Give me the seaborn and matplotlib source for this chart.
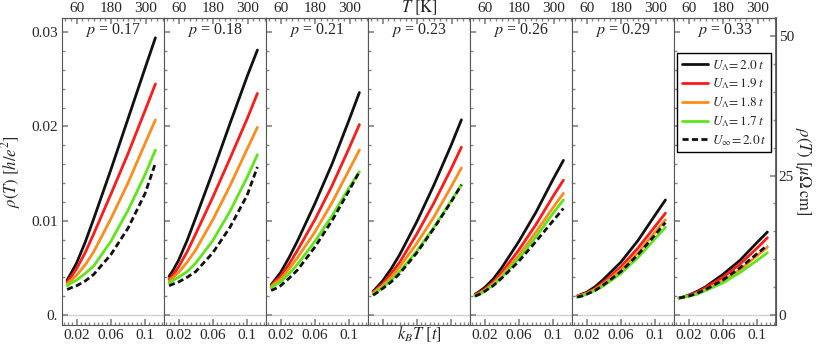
import numpy as np
import pandas as pd
import seaborn as sns
import matplotlib.pyplot as plt
from matplotlib.ticker import FixedLocator, MultipleLocator, FuncFormatter
from matplotlib.lines import Line2D

# temperature grid in units of the hopping t
kT = [0.009, 0.014, 0.02, 0.03, 0.04, 0.06, 0.08, 0.1, 0.112]
dopings = [0.17, 0.18, 0.21, 0.23, 0.26, 0.29, 0.33]

# rho(T) in h/e^2, one list per panel (p = 0.17 ... 0.33)
rho_U20 = [
    [0.0037, 0.0045, 0.0055, 0.0077, 0.0102, 0.0154, 0.0208, 0.0262, 0.0294],
    [0.0041, 0.0048, 0.0058, 0.0079, 0.0103, 0.0152, 0.0203, 0.0253, 0.0281],
    [0.0032, 0.0038, 0.0045, 0.0061, 0.0079, 0.0118, 0.0160, 0.0207, 0.0236],
    [0.0025, 0.0030, 0.0036, 0.0049, 0.0064, 0.0099, 0.0138, 0.0180, 0.0207],
    [0.0022, 0.0025, 0.0029, 0.0038, 0.0050, 0.0078, 0.0109, 0.0144, 0.0164],
    [0.0020, 0.0022, 0.0024, 0.0030, 0.0038, 0.0056, 0.0079, 0.0106, 0.0122],
    [0.0018, 0.0019, 0.0021, 0.0025, 0.0030, 0.0043, 0.0058, 0.0077, 0.0088],
]
rho_U19 = [
    [0.0035, 0.0041, 0.0049, 0.0066, 0.0086, 0.0128, 0.0171, 0.0217, 0.0245],
    [0.0038, 0.0043, 0.0051, 0.0067, 0.0086, 0.0125, 0.0166, 0.0208, 0.0235],
    [0.0031, 0.0036, 0.0041, 0.0054, 0.0069, 0.0101, 0.0137, 0.0177, 0.0202],
    [0.0024, 0.0028, 0.0033, 0.0044, 0.0056, 0.0086, 0.0119, 0.0155, 0.0178],
    [0.0021, 0.0024, 0.0027, 0.0035, 0.0045, 0.0069, 0.0096, 0.0126, 0.0143],
    [0.0020, 0.0021, 0.0023, 0.0028, 0.0035, 0.0051, 0.0071, 0.0094, 0.0108],
    [0.0018, 0.0019, 0.0021, 0.0024, 0.0029, 0.0040, 0.0054, 0.0071, 0.0082],
]
rho_U18 = [
    [0.0033, 0.0037, 0.0042, 0.0053, 0.0067, 0.0102, 0.0140, 0.0182, 0.0207],
    [0.0036, 0.0040, 0.0045, 0.0056, 0.0069, 0.0101, 0.0137, 0.0176, 0.0199],
    [0.0030, 0.0034, 0.0038, 0.0049, 0.0061, 0.0088, 0.0119, 0.0154, 0.0175],
    [0.0023, 0.0027, 0.0031, 0.0040, 0.0051, 0.0076, 0.0104, 0.0136, 0.0156],
    [0.0021, 0.0023, 0.0026, 0.0033, 0.0042, 0.0063, 0.0088, 0.0114, 0.0129],
    [0.0020, 0.0021, 0.0023, 0.0027, 0.0033, 0.0048, 0.0066, 0.0088, 0.0101],
    [0.0018, 0.0019, 0.0020, 0.0023, 0.0027, 0.0036, 0.0048, 0.0063, 0.0072],
]
rho_U17 = [
    [0.0031, 0.0034, 0.0037, 0.0044, 0.0052, 0.0078, 0.0111, 0.0149, 0.0175],
    [0.0034, 0.0037, 0.0040, 0.0046, 0.0055, 0.0079, 0.0110, 0.0146, 0.0170],
    [0.0029, 0.0032, 0.0035, 0.0044, 0.0054, 0.0078, 0.0105, 0.0135, 0.0152],
    [0.0022, 0.0025, 0.0029, 0.0037, 0.0046, 0.0068, 0.0093, 0.0121, 0.0138],
    [0.0020, 0.0022, 0.0025, 0.0032, 0.0040, 0.0060, 0.0083, 0.0108, 0.0122],
    [0.0019, 0.0020, 0.0022, 0.0026, 0.0031, 0.0044, 0.0061, 0.0081, 0.0093],
    [0.0018, 0.0019, 0.0020, 0.0022, 0.0026, 0.0034, 0.0045, 0.0058, 0.0066],
]
rho_Uinf = [
    [0.0027, 0.0029, 0.0031, 0.0036, 0.0043, 0.0064, 0.0092, 0.0129, 0.0161],
    [0.0031, 0.0033, 0.0035, 0.0040, 0.0046, 0.0066, 0.0093, 0.0127, 0.0157],
    [0.0026, 0.0028, 0.0031, 0.0039, 0.0048, 0.0072, 0.0100, 0.0132, 0.0152],
    [0.0021, 0.0024, 0.0028, 0.0035, 0.0044, 0.0066, 0.0092, 0.0120, 0.0138],
    [0.0020, 0.0022, 0.0025, 0.0031, 0.0039, 0.0057, 0.0078, 0.0100, 0.0113],
    [0.0019, 0.0020, 0.0022, 0.0026, 0.0032, 0.0046, 0.0064, 0.0085, 0.0098],
    [0.0018, 0.0019, 0.0020, 0.0023, 0.0027, 0.0037, 0.0050, 0.0065, 0.0074],
]

series_names = ["U20", "U19", "U18", "U17", "Uinf"]
series_data = [rho_U20, rho_U19, rho_U18, rho_U17, rho_Uinf]
series_labels = [r"$U_\Lambda\!=2.0\,t$", r"$U_\Lambda\!=1.9\,t$", r"$U_\Lambda\!=1.8\,t$",
                 r"$U_\Lambda\!=1.7\,t$", r"$U_\infty\!=2.0\,t$"]
colors = {"U20": "#111111", "U19": "#ff1a1a", "U18": "#ff8c1a", "U17": "#5ee61a", "Uinf": "#111111"}
dashes = {"U20": "", "U19": "", "U18": "", "U17": "", "Uinf": (2.2, 1.2)}

K_PER_T = 1 / 0.000335    # k_B T [t] -> T [K]
MUOHM_PER_HE2 = 1690.0    # h/e^2 -> micro-Ohm cm

rows = []
for name, data in zip(series_names, series_data):
    for p, vals in zip(dopings, data):
        for x, y in zip(kT, vals):
            rows.append({"p": p, "U": name, "kT": x, "rho": y})
df = pd.DataFrame(rows)

sns.set_theme(style="ticks")
plt.rcParams["font.family"] = ["Liberation Serif", "DejaVu Serif"]
plt.rcParams["mathtext.fontset"] = "stix"

fig, axes = plt.subplots(1, 7, figsize=(8.22, 3.46), dpi=100, sharey=True)
fig.subplots_adjust(left=0.0754, right=0.944, top=0.948, bottom=0.0607, wspace=0)

for i, (ax, p) in enumerate(zip(axes, dopings)):
    sub = df[df.p == p]
    ax.axhline(0, color="#d0d0d0", lw=1.0, zorder=0)
    sns.lineplot(data=sub, x="kT", y="rho", hue="U", style="U", palette=colors,
                 dashes=dashes, hue_order=series_names, style_order=series_names,
                 ax=ax, legend=False, linewidth=2.0, sort=False)
    ax.set_xlim(0.003, 0.122)
    ax.set_ylim(-0.00106, 0.0315)
    ax.set_xlabel("")
    ax.set_ylabel("")
    ax.xaxis.set_major_locator(FixedLocator([0.02, 0.06, 0.1]))
    ax.xaxis.set_major_formatter(FuncFormatter(lambda v, pos: f"{v:g}"))
    ax.xaxis.set_minor_locator(MultipleLocator(0.005))
    ax.yaxis.set_major_locator(FixedLocator([0, 0.01, 0.02, 0.03]))
    ax.yaxis.set_major_formatter(FuncFormatter(lambda v, pos: "0." if v == 0 else f"{v:g}"))
    ax.yaxis.set_minor_locator(MultipleLocator(0.002))
    ax.tick_params(which="both", direction="in", labelsize=11, pad=3, color="#888888")
    ax.tick_params(which="major", length=4)
    ax.tick_params(which="minor", length=2)
    for s in ax.spines.values():
        s.set_color("#555555")
        s.set_linewidth(0.8)
    ax.text(0.5, 0.962, f"$p$ = {p}", transform=ax.transAxes, ha="center", va="center", fontsize=11.5)

    sec = ax.secondary_xaxis("top", functions=(lambda x: x * K_PER_T, lambda T: T / K_PER_T))
    sec.set_xticks([60, 180, 300])
    sec.xaxis.set_minor_locator(MultipleLocator(20))
    sec.tick_params(which="both", direction="in", labelsize=11, pad=2, color="#888888")
    sec.tick_params(which="major", length=4)
    sec.tick_params(which="minor", length=2)
    sec.spines["top"].set_color("#555555")
    sec.spines["top"].set_linewidth(0.8)

    if i == 3:
        ax.tick_params(labelbottom=False)
        sec.set_xticklabels([])
        ax.text(0.5, -0.03, r"$k_BT\ [t]$", transform=ax.transAxes, ha="center", va="center", fontsize=12)
        ax.text(0.5, 1.032, r"$T\ [\mathrm{K}]$", transform=ax.transAxes, ha="center", va="center", fontsize=12)

axes[0].set_ylabel(r"$\rho(T)\ [h/e^2]$", fontsize=12, labelpad=6)

last = axes[-1]
secy = last.secondary_yaxis("right", functions=(lambda r: r * MUOHM_PER_HE2, lambda m: m / MUOHM_PER_HE2))
secy.set_yticks([0, 25, 50])
secy.yaxis.set_minor_locator(MultipleLocator(5))
secy.tick_params(which="both", direction="in", labelsize=11, pad=2, color="#888888")
secy.tick_params(which="major", length=4)
secy.tick_params(which="minor", length=2)
secy.spines["right"].set_color("#555555")
secy.set_ylabel(r"$\rho(T)\ [\mu\Omega\,\mathrm{cm}]$", fontsize=12, rotation=270, labelpad=14)

handles = [Line2D([0], [0], color=colors[n], lw=2.0,
                  linestyle="--" if n == "Uinf" else "-",
                  dashes=dashes[n] if n == "Uinf" else (None, None))
           for n in series_names]
leg = last.legend(handles, series_labels, loc="upper right", bbox_to_anchor=(0.95, 0.885),
                  fontsize=9.5, frameon=True, fancybox=False, framealpha=1, edgecolor="black",
                  handlelength=2.0, handletextpad=0.3, labelspacing=0.3, borderpad=0.35,
                  borderaxespad=0)
leg.get_frame().set_linewidth(1.0)

plt.savefig("out.png", dpi=100)
